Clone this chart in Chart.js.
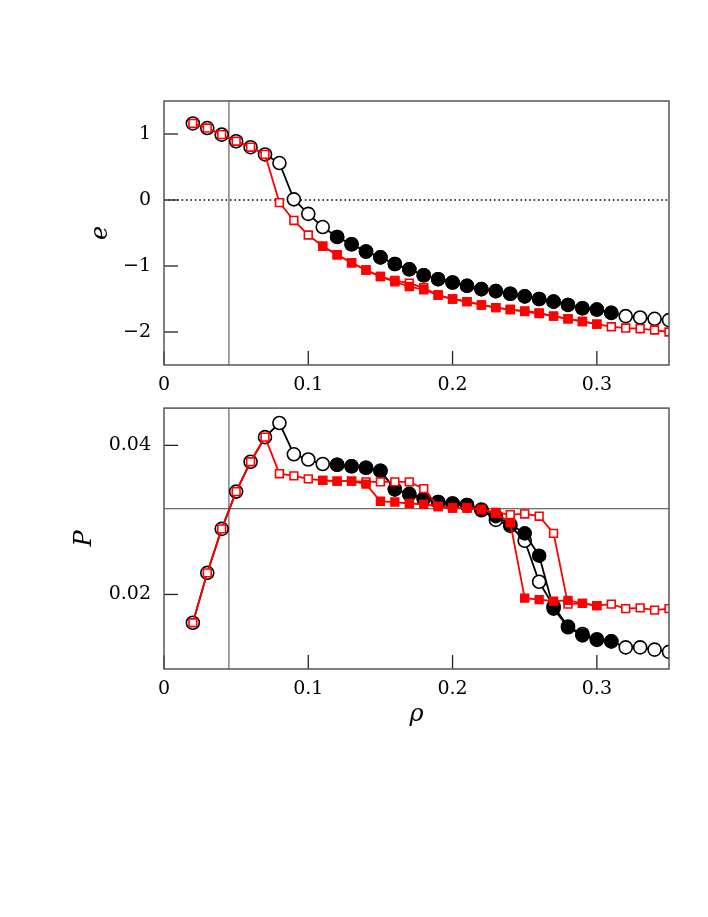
<!DOCTYPE html>
<html>
<head>
<meta charset="utf-8">
<title>e and P versus rho</title>
<script src="https://cdn.jsdelivr.net/npm/chart.js@4"></script>
<style>
  body { margin: 0; background: #fff; }
  #topWrap { position: absolute; left: 0; top: 0; width: 708px; height: 400px; }
  #botWrap { position: absolute; left: 0; top: 400px; width: 708px; height: 517px; }
</style>
</head>
<body>
<div id="topWrap"><canvas id="eChart"></canvas></div>
<div id="botWrap"><canvas id="pChart"></canvas></div>
<script>
// density grid (same for every series)
var rho = [0.02, 0.03, 0.04, 0.05, 0.06, 0.07, 0.08, 0.09, 0.10, 0.11,
           0.12, 0.13, 0.14, 0.15, 0.16, 0.17, 0.18, 0.19, 0.20, 0.21,
           0.22, 0.23, 0.24, 0.25, 0.26, 0.27, 0.28, 0.29, 0.30, 0.31,
           0.32, 0.33, 0.34, 0.35];

// top panel: e
var eBlackOpen = [1.16, 1.09, 0.99, 0.89, 0.80, 0.69, 0.56, 0.01, -0.21, -0.41,
                  -0.56, -0.67, -0.78, -0.87, -0.97, -1.05, -1.14, -1.20, -1.25, -1.30,
                  -1.35, -1.38, -1.42, -1.46, -1.50, -1.54, -1.59, -1.64, -1.66, -1.71,
                  -1.76, -1.78, -1.80, -1.82];
var eBlackFilled = [null, null, null, null, null, null, null, null, null, null,
                    -0.56, -0.67, -0.78, -0.87, -0.97, -1.05, -1.14, -1.20, -1.25, -1.30,
                    -1.35, -1.38, -1.42, -1.46, -1.50, -1.54, -1.59, -1.64, -1.66, -1.71,
                    null, null, null, null];
var eRedOpen = [1.16, 1.09, 0.99, 0.89, 0.80, 0.69, -0.04, -0.31, -0.53, -0.70,
                -0.83, -0.95, -1.06, -1.16, -1.22, -1.26, -1.33, -1.44, -1.50, -1.54,
                -1.59, -1.63, -1.66, -1.68, -1.71, -1.76, -1.80, -1.84, -1.88, -1.92,
                -1.94, -1.95, -1.97, -2.00];
var eRedFilled = [null, null, null, null, null, null, null, null, null, -0.70,
                  -0.83, -0.95, -1.06, -1.16, -1.24, -1.31, -1.36, -1.44, -1.50, -1.54,
                  -1.59, -1.63, -1.66, -1.69, -1.72, -1.76, -1.80, -1.84, -1.88, null,
                  null, null, null, null];

// bottom panel: P
var pBlackOpen = [0.0162, 0.0229, 0.0288, 0.0338, 0.0378, 0.0411, 0.0430, 0.0388, 0.0381, 0.0375,
                  0.0374, 0.0372, 0.0370, 0.0366, 0.0341, 0.0335, 0.0329, 0.0324, 0.0322, 0.0320,
                  0.0314, 0.0300, 0.0292, 0.0272, 0.0217, 0.0184, 0.0157, 0.0147, 0.0140, 0.0137,
                  0.0129, 0.0129, 0.0126, 0.0123];
var pBlackFilled = [null, null, null, null, null, null, null, null, null, null,
                    0.0374, 0.0372, 0.0370, 0.0366, 0.0341, 0.0334, 0.0328, 0.0324, 0.0322, 0.0320,
                    0.0313, 0.0305, 0.0294, 0.0282, 0.0252, 0.0181, 0.0156, 0.0145, 0.0139, 0.0137,
                    null, null, null, null];
var pRedOpen = [0.0162, 0.0229, 0.0288, 0.0338, 0.0378, 0.0411, 0.0362, 0.0359, 0.0355, 0.0353,
                0.0352, 0.0352, 0.0351, 0.0351, 0.0351, 0.0351, 0.0342, 0.0318, 0.0316, 0.0316,
                0.0314, 0.0310, 0.0307, 0.0308, 0.0305, 0.0282, 0.0187, 0.0188, 0.0185, 0.0187,
                0.0181, 0.0182, 0.0179, 0.0181];
var pRedFilled = [null, null, null, null, null, null, null, null, null, 0.0353,
                  0.0352, 0.0352, 0.0348, 0.0325, 0.0324, 0.0322, 0.0321, 0.0318, 0.0316, 0.0316,
                  0.0314, 0.0309, 0.0296, 0.0195, 0.0193, 0.0191, 0.0192, 0.0188, 0.0185, null,
                  null, null, null, null];

// reference lines and axis limits
var rhoMark = 0.045;
var eZero = 0;
var pMark = 0.0315;
var rhoLimits = [0, 0.35];
var eLimits = [-2.5, 1.5];
var pLimits = [0.01, 0.045];

function pts(ys) {
  var out = [];
  ys.forEach(function(v, i) { if (v !== null) out.push({ x: rho[i], y: v }); });
  return out;
}

function series(ys, color, style, filled, radius, order) {
  return {
    data: pts(ys),
    borderColor: color,
    borderWidth: 1.8,
    pointStyle: style,
    pointRadius: radius,
    pointBorderColor: color,
    pointBackgroundColor: filled ? color : '#fff',
    pointBorderWidth: 1.6,
    tension: 0,
    order: order
  };
}

function refLine(points, dash, color, width) {
  return {
    data: points,
    borderColor: color || '#444',
    borderWidth: width || 1,
    borderDash: dash || [],
    pointRadius: 0,
    order: 10
  };
}

// frame box and inward tick marks
var frameTicks = {
  id: 'frameTicks',
  afterDraw: function(chart, args, opts) {
    var ctx = chart.ctx, a = chart.chartArea;
    ctx.save();
    ctx.strokeStyle = '#222';
    ctx.lineWidth = 1.3;
    var xs = chart.scales.x, ys = chart.scales.y;
    xs.ticks.forEach(function(t) {
      var k = t.value / opts.xStep;
      if (Math.abs(k - Math.round(k)) > 1e-6) return;
      var len = (t.label === null || t.label === '') ? 7 : 14;
      var px = xs.getPixelForValue(t.value);
      ctx.beginPath(); ctx.moveTo(px, a.bottom); ctx.lineTo(px, a.bottom - len); ctx.stroke();
    });
    ys.ticks.forEach(function(t) {
      var k = t.value / opts.yStep;
      if (Math.abs(k - Math.round(k)) > 1e-6) return;
      var len = (t.label === null || t.label === '') ? 8 : 14;
      var py = ys.getPixelForValue(t.value);
      ctx.beginPath(); ctx.moveTo(a.left, py); ctx.lineTo(a.left + len, py); ctx.stroke();
    });
    ctx.strokeStyle = '#555';
    ctx.lineWidth = 1.5;
    ctx.strokeRect(a.left, a.top, a.right - a.left, a.bottom - a.top);
    ctx.restore();
  }
};

var tickFont = { family: 'DejaVu Serif', size: 19 };
var titleFont = { family: 'DejaVu Serif', size: 24, style: 'italic' };

function xAxis(height, showTitle) {
  return {
    type: 'linear',
    min: rhoLimits[0], max: rhoLimits[1],
    grid: { display: false, drawTicks: false },
    border: { display: false },
    ticks: {
      stepSize: 0.05, autoSkip: false, maxRotation: 0, padding: 9,
      color: '#000', font: tickFont,
      callback: function(v) {
        var n = Math.round(v * 100);
        if (n % 10 !== 0 || n > 30) return null;
        return n === 0 ? '0' : (n / 100).toFixed(1);
      }
    },
    title: { display: showTitle, text: 'ρ', color: '#000', font: titleFont, padding: { bottom: 188 } },
    afterFit: function(s) { s.height = height; s.paddingLeft = 0; s.paddingRight = 0; }
  };
}

function yAxis(limits, step, label, titlePad, fmt) {
  return {
    type: 'linear',
    min: limits[0], max: limits[1],
    grid: { display: false, drawTicks: false },
    border: { display: false },
    ticks: { stepSize: step, padding: 13, color: '#000', font: tickFont, callback: fmt },
    title: { display: true, text: label, color: '#000', font: titleFont, padding: { top: titlePad } },
    afterFit: function(s) { s.width = 164; s.paddingTop = 0; s.paddingBottom = 0; }
  };
}

function baseOptions(padTop, xHeight, showXTitle, yScale, steps) {
  return {
    responsive: true,
    maintainAspectRatio: false,
    animation: false,
    layout: { padding: { left: 0, right: 39, top: padTop, bottom: 0 } },
    plugins: { legend: { display: false }, tooltip: { enabled: false }, frameTicks: steps },
    scales: { x: xAxis(xHeight, showXTitle), y: yScale }
  };
}

new Chart(document.getElementById('eChart'), {
  type: 'line',
  data: {
    datasets: [
      series(eRedFilled, '#ff0000', 'rect', true, 5.5, 1),
      series(eRedOpen, '#ff0000', 'rect', false, 5.5, 2),
      series(eBlackFilled, '#000', 'circle', true, 6.5, 3),
      series(eBlackOpen, '#000', 'circle', false, 6.5, 4),
      refLine([{ x: rhoLimits[0], y: eZero }, { x: rhoLimits[1], y: eZero }], [1.6, 2.8], '#000', 1.6),
      refLine([{ x: rhoMark, y: eLimits[0] }, { x: rhoMark, y: eLimits[1] }])
    ]
  },
  options: baseOptions(101, 35, false,
    yAxis(eLimits, 0.5, 'e', 86, function(v) {
      if (Math.abs(v - Math.round(v)) > 1e-6) return null;
      return v < 0 ? '\u2212' + Math.abs(v) : String(v);
    }),
    { xStep: 0.05, yStep: 0.5 }),
  plugins: [frameTicks]
});

new Chart(document.getElementById('pChart'), {
  type: 'line',
  data: {
    datasets: [
      series(pRedFilled, '#ff0000', 'rect', true, 5.5, 1),
      series(pRedOpen, '#ff0000', 'rect', false, 5.5, 2),
      series(pBlackFilled, '#000', 'circle', true, 6.5, 3),
      series(pBlackOpen, '#000', 'circle', false, 6.5, 4),
      refLine([{ x: rhoLimits[0], y: pMark }, { x: rhoLimits[1], y: pMark }]),
      refLine([{ x: rhoMark, y: pLimits[0] }, { x: rhoMark, y: pLimits[1] }])
    ]
  },
  options: baseOptions(5, 248, true,
    yAxis(pLimits, 0.01, 'P', 70, function(v) {
      var n = Math.round(v * 1000);
      if (n === 20 || n === 40) return (n / 1000).toFixed(2);
      return null;
    }),
    { xStep: 0.05, yStep: 0.01 }),
  plugins: [frameTicks]
});
</script>
</body>
</html>
